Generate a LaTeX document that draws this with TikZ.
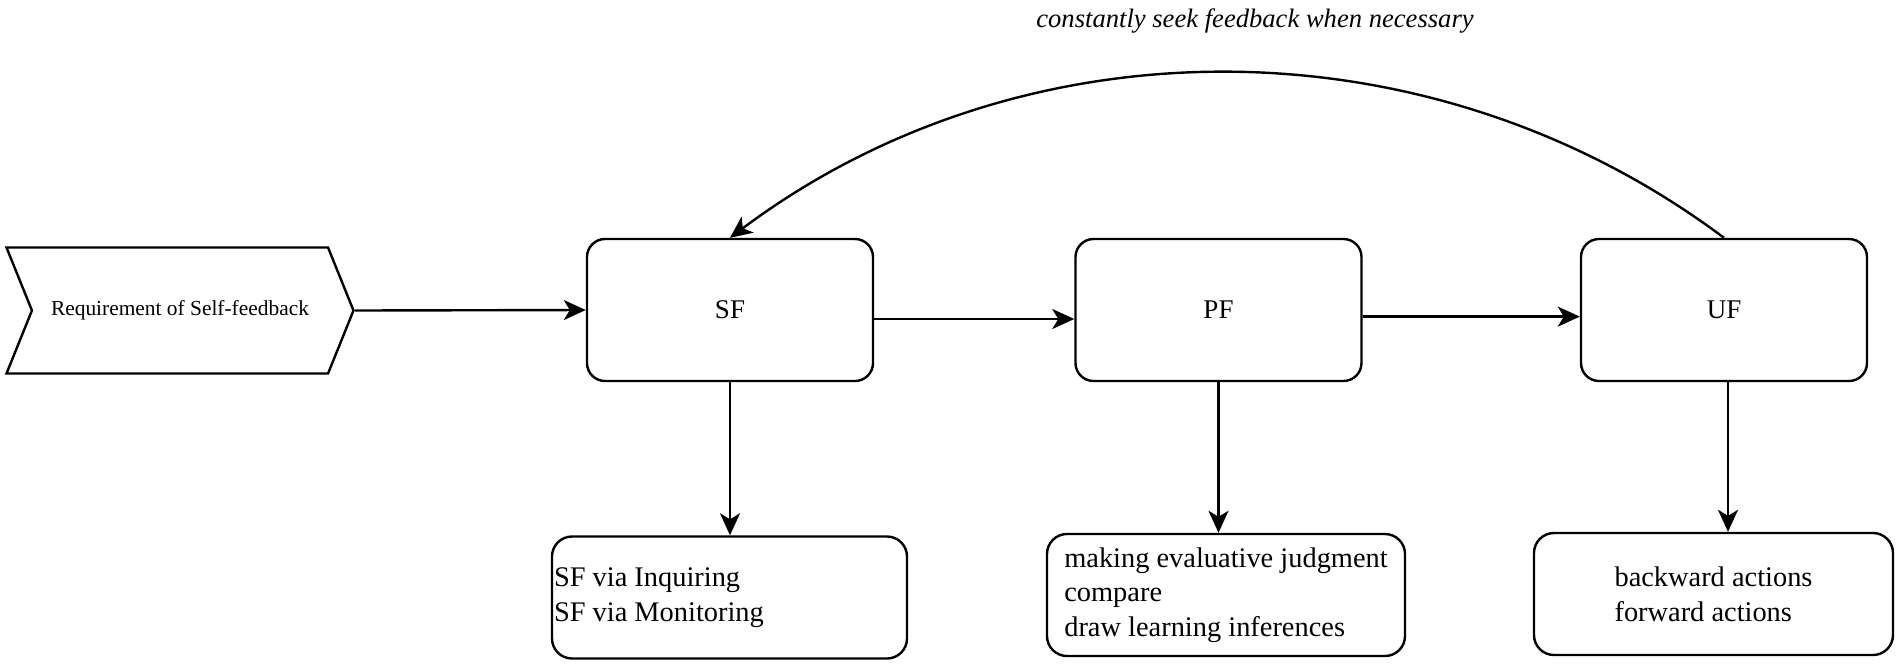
\documentclass[tikz,border=0pt]{standalone}
\usepackage{fontspec}
\setmainfont{Liberation Serif}
\usetikzlibrary{arrows.meta,shapes.symbols}

\begin{document}
\begin{tikzpicture}[x=0.5pt,y=-0.5pt,line width=1.2pt,
  box/.style={draw,rounded corners=9pt,minimum width=143pt,minimum height=71pt,font=\fontsize{13.5}{16}\selectfont},
  sub/.style={draw,rounded corners=10pt,minimum height=61pt,inner sep=1pt,align=flush left,font=\fontsize{14.2}{17.4}\selectfont},
  arr/.style={-{Stealth[length=11pt,width=10pt,inset=3pt]}}]

\useasboundingbox (0,0) rectangle (1902,671);

\node[draw,signal,signal from=west,signal to=east,signal pointer angle=136,
  minimum width=173.5pt,minimum height=63pt,inner sep=0pt,
  font=\fontsize{10.7}{13}\selectfont] (req) at (180,310.5) {Requirement of Self-feedback};

\node[box] (sf) at (730,310) {SF};
\node[box] (pf) at (1218.5,310) {PF};
\node[box] (uf) at (1724,310) {UF};

\node[sub,minimum width=177.5pt,text width=175.5pt] (sfsub) at (729.5,597.5) {SF via Inquiring\\SF via Monitoring};
\node[sub,minimum width=179pt] (pfsub) at (1226,595) {making evaluative judgment\\compare\\draw learning inferences};
\node[sub,minimum width=179.5pt] (ufsub) at (1713.5,594) {backward actions\\forward actions};

\node[font=\itshape\fontsize{13.3}{16}\selectfont] (note) at (1255,21) {constantly seek feedback when necessary};

\draw[arr] (req.east) -- (sf.west);
\draw[arr] ([yshift=-4.5pt]sf.east) -- ([yshift=-4.5pt]pf.west);
\draw[arr] ([yshift=-3.3pt]pf.east) -- ([yshift=-3.3pt]uf.west);

\draw[arr] (sf.south) -- (sf.south |- sfsub.north);
\draw[arr] (pf.south) -- (pf.south |- pfsub.north);
\draw[arr] ([xshift=2pt]uf.south) -- ([xshift=2pt]uf.south |- ufsub.north);

% feedback loop
\draw[arr] (uf.north) .. controls +(-294,-220) and +(294,-220) .. (sf.north);

\end{tikzpicture}
\end{document}
